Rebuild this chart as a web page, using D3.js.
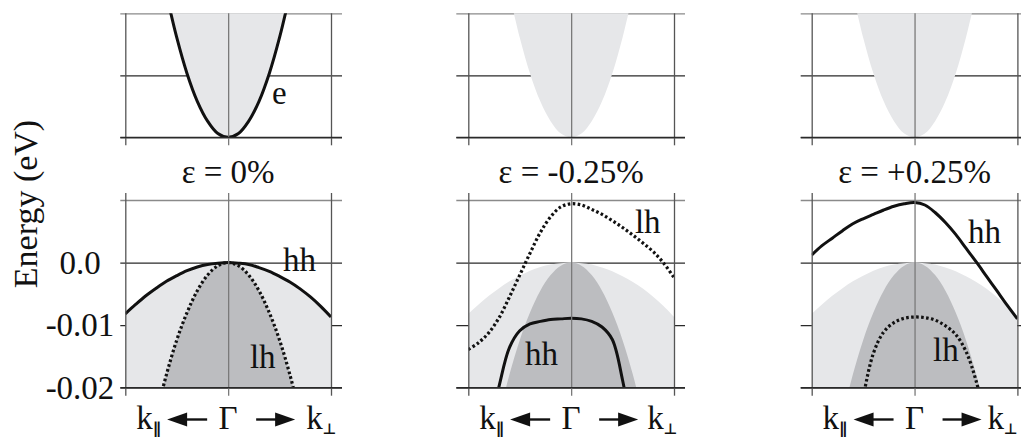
<!DOCTYPE html>
<html>
<head>
<meta charset="utf-8">
<script src="https://cdn.jsdelivr.net/npm/d3@7"></script>
<style>
  body { margin: 0; background: #fff; }
  svg { display: block; }
</style>
</head>
<body>
<svg id="chart" width="1021" height="437"></svg>
<script>
// Wave vector, normalised: negative side runs along k∥, positive side along k⊥
const kGrid = [-1, -0.9, -0.8, -0.7, -0.6, -0.5, -0.4, -0.3, -0.2, -0.1, 0,
               0.1, 0.2, 0.3, 0.4, 0.5, 0.6, 0.7, 0.8, 0.9, 1];
const kCond = [-0.6, -0.5, -0.4, -0.3, -0.2, -0.1, 0, 0.1, 0.2, 0.3, 0.4, 0.5, 0.6];

// Conduction band (upper row, arbitrary units)
const eBand = [2.31, 1.61, 1.03, 0.58, 0.26, 0.06, 0, 0.06, 0.26, 0.58, 1.03, 1.61, 2.31];
const condTicks = [0, 1, 2];

// Valence bands (eV) on kGrid
const hhUnstrained = [-0.0082, -0.0067, -0.0053, -0.0041, -0.0030, -0.0021, -0.0013, -0.0007, -0.0003, -0.0001, 0,
                      -0.0001, -0.0003, -0.0008, -0.0014, -0.0022, -0.0031, -0.0042, -0.0055, -0.0070, -0.0087];
const lhUnstrained = [null, null, null, -0.0244, -0.0179, -0.0124, -0.0080, -0.0045, -0.0020, -0.0005, 0,
                      -0.0005, -0.0020, -0.0045, -0.0080, -0.0124, -0.0179, -0.0244, null, null, null];
const hhCompressive = [null, null, -0.0270, -0.0197, -0.0136, -0.0109, -0.0098, -0.0094, -0.0091, -0.0090, -0.0089,
                       -0.0090, -0.0094, -0.0103, -0.0123, -0.0188, -0.0280, null, null, null, null];
const lhCompressive = [-0.0139, -0.0128, -0.0112, -0.0088, -0.0055, -0.0020, 0.0015, 0.0048, 0.0073, 0.0089, 0.0094,
                       0.0092, 0.0085, 0.0077, 0.0067, 0.0056, 0.0044, 0.0031, 0.0017, -0.0001, -0.0024];
const hhTensile = [0.0012, 0.0027, 0.0039, 0.0051, 0.0062, 0.0070, 0.0077, 0.0084, 0.0090, 0.0094, 0.0096,
                   0.0092, 0.0080, 0.0064, 0.0045, 0.0023, 0.0001, -0.0022, -0.0045, -0.0068, -0.0090];
const lhTensile = [null, null, null, null, -0.0300, -0.0215, -0.0145, -0.0111, -0.0096, -0.0089, -0.0087,
                   -0.0088, -0.0092, -0.0101, -0.0115, -0.0142, -0.0190, -0.0260, null, null, null];

const strainTitles = ["ε = 0%", "ε = -0.25%", "ε = +0.25%"];
const energyTicks = [0.01, 0, -0.01, -0.02];
const energyTickLabels = { "0": "0.0", "-0.01": "-0.01", "-0.02": "-0.02" };
const kTicks = [-1, 0, 1];

// Per-panel band sets and label anchors (k, E)
const panels = [
  { title: strainTitles[0], hh: hhUnstrained, lh: lhUnstrained, eLine: true,
    hhLabel: [0.533, -0.0013], lhLabel: [0.212, -0.0168], kPerpOffset: 78 },
  { title: strainTitles[1], hh: hhCompressive, lh: lhCompressive, eLine: false,
    hhLabel: [-0.449, -0.0164], lhLabel: [0.62, 0.0048], kPerpOffset: 76 },
  { title: strainTitles[2], hh: hhTensile, lh: lhTensile, eLine: false,
    hhLabel: [0.52, 0.0032], lhLabel: [0.18, -0.0158], kPerpOffset: 73 }
];

const SERIF = '"Liberation Serif", "Times New Roman", Times, "DejaVu Serif", serif';
const svg = d3.select("#chart").attr("font-family", SERIF);
const FONT = 33;
const LIGHT = "#e6e7e9", DARK = "#bcbdc0";

const addText = (sel, x, y, str) => sel.append("text")
  .attr("x", x).attr("y", y).attr("font-size", FONT)
  .attr("fill", "#111").style("font-family", SERIF).text(str);

const panelLefts = [125.3, 468.3, 811.7];
const panelW = 205.7;
const leftExt = [5, 12, 11];
const rightExt = 11;

const yTop = d3.scaleLinear().domain([0, 2]).range([137.3, 13.3]);
const yBot = d3.scaleLinear().domain([-0.02, 0.01]).range([387.7, 200]);

const defs = svg.append("defs");

panels.forEach((p, i) => {
  const x0 = panelLefts[i];
  const x = d3.scaleLinear().domain([-1, 1]).range([x0, x0 + panelW]);
  const g = svg.append("g");

  const clipTop = "clipTop" + i, clipBot = "clipBot" + i;
  defs.append("clipPath").attr("id", clipTop).append("rect")
    .attr("x", x0).attr("y", yTop(2)).attr("width", panelW).attr("height", yTop(0) - yTop(2));
  defs.append("clipPath").attr("id", clipBot).append("rect")
    .attr("x", x0).attr("y", yBot(0.01)).attr("width", panelW).attr("height", yBot(-0.02) - yBot(0.01));

  // Horizontal grid lines (beneath the filled regions)
  const hGrid = (scale, ticks, topVal) => {
    const ax = d3.axisLeft(scale).tickValues(ticks).tickFormat("")
      .tickSizeInner(-(panelW + leftExt[i] + rightExt)).tickSizeOuter(0);
    const ga = g.append("g").attr("transform", `translate(${x0 - leftExt[i]},0)`).call(ax);
    ga.select(".domain").remove();
    ga.selectAll(".tick line")
      .attr("stroke", d => d === topVal ? "#8a8a8a" : "#2a2a2a")
      .attr("stroke-width", 1.3);
  };
  hGrid(yTop, condTicks, 2);
  hGrid(yBot, energyTicks, 0.01);

  // Upper row: conduction band
  const condPts = kCond.map((k, j) => [k, eBand[j]]);
  const gt = g.append("g").attr("clip-path", `url(#${clipTop})`);
  gt.append("path").datum(condPts)
    .attr("fill", LIGHT)
    .attr("d", d3.area().x(d => x(d[0])).y0(yTop(2.4)).y1(d => yTop(d[1])).curve(d3.curveCatmullRom));

  // Lower row: unstrained hh / lh regions as background
  const gb = g.append("g").attr("clip-path", `url(#${clipBot})`);
  const ptsOf = arr => kGrid.map((k, j) => [k, arr[j]]);
  const area = d3.area().defined(d => d[1] !== null)
    .x(d => x(d[0])).y0(yBot(-0.03)).y1(d => yBot(d[1])).curve(d3.curveCatmullRom);
  gb.append("path").datum(ptsOf(hhUnstrained)).attr("fill", LIGHT).attr("d", area);
  gb.append("path").datum(ptsOf(lhUnstrained)).attr("fill", DARK).attr("d", area);

  // Vertical lines: panel edges and Γ, each with a short tick below
  const vGrid = (yA, yB) => {
    const ax = d3.axisBottom(x).tickValues(kTicks).tickFormat("")
      .tickSizeInner(-(yB - yA)).tickSizeOuter(0);
    const ga = g.append("g").attr("transform", `translate(0,${yB})`).call(ax);
    ga.select(".domain").remove();
    ga.selectAll(".tick line")
      .attr("stroke", d => d === 0 ? "#7a7a7a" : "#555")
      .attr("stroke-width", 1.3);
  };
  vGrid(yTop(2), yTop(0) + 8);
  vGrid(yBot(0.01) - 7, yBot(-0.02) + 8);

  // Bottom edges drawn over the fills
  [yTop(0), yBot(-0.02)].forEach(yy => {
    g.append("line").attr("x1", x0 - leftExt[i]).attr("x2", x0 + panelW + rightExt)
      .attr("y1", yy).attr("y2", yy).attr("stroke", "#2a2a2a").attr("stroke-width", 1.3);
  });

  // Curves
  if (p.eLine) {
    gt.append("path").datum(condPts)
      .attr("fill", "none").attr("stroke", "#111").attr("stroke-width", 3)
      .attr("d", d3.line().x(d => x(d[0])).y(d => yTop(d[1])).curve(d3.curveCatmullRom));
    addText(g, x(0.426), yTop(0.537), "e");
  }
  const line = d3.line().defined(d => d[1] !== null)
    .x(d => x(d[0])).y(d => yBot(d[1])).curve(d3.curveCatmullRom);
  gb.append("path").datum(ptsOf(p.hh))
    .attr("fill", "none").attr("stroke", "#111").attr("stroke-width", 3).attr("d", line);
  gb.append("path").datum(ptsOf(p.lh))
    .attr("fill", "none").attr("stroke", "#111").attr("stroke-width", 3.2)
    .attr("stroke-dasharray", "2.6 2.4").attr("d", line);

  addText(g, x(p.hhLabel[0]), yBot(p.hhLabel[1]), "hh");
  addText(g, x(p.lhLabel[0]), yBot(p.lhLabel[1]), "lh");

  // Strain title
  addText(g, x(0), 183, p.title).attr("text-anchor", "middle");

  // Direction labels:  k∥ ← Γ → k⊥
  const c = x(0), by = 429, ay = 419.5;
  const kl = addText(g, c - 92, by, "");
  kl.append("tspan").text("k");
  kl.append("tspan").attr("font-size", 16).attr("font-weight", "bold").attr("dy", 5)
    .style("font-family", '"DejaVu Sans", sans-serif').text("\u2225");
  const kr = addText(g, c + p.kPerpOffset, by, "");
  kr.append("tspan").text("k");
  kr.append("tspan").attr("font-size", 15).attr("font-weight", "bold").attr("dy", 5)
    .style("font-family", '"DejaVu Sans", sans-serif').text("\u22A5");
  addText(g, c, by, "Γ").attr("text-anchor", "middle");

  const arrow = (tail, tip) => {
    const dir = Math.sign(tip - tail), headLen = 20, halfH = 7;
    g.append("line").attr("x1", tail).attr("x2", tip - dir * headLen + dir * 2)
      .attr("y1", ay).attr("y2", ay).attr("stroke", "#111").attr("stroke-width", 2.4);
    g.append("path").attr("fill", "#111")
      .attr("d", `M${tip},${ay} L${tip - dir * headLen},${ay - halfH} L${tip - dir * headLen},${ay + halfH} Z`);
  };
  arrow(c - 21, c - 61);
  arrow(c + 28, c + 67);

  // Energy tick labels on the first panel, centred in the margin
  if (i === 0) {
    const ax = d3.axisLeft(yBot).tickValues([0, -0.01, -0.02])
      .tickFormat(d => energyTickLabels[String(d)]).tickSize(0).tickPadding(0);
    const ga = svg.append("g").attr("transform", "translate(80,0)").call(ax);
    ga.select(".domain").remove();
    ga.attr("font-family", SERIF).attr("font-size", FONT);
    ga.selectAll("text").attr("font-size", FONT).attr("fill", "#111")
      .attr("text-anchor", "middle").attr("x", 0)
      .style("font-family", SERIF);
  }
});

// Axis title
addText(svg, 0, 0, "Energy (eV)")
  .attr("font-size", 34)
  .attr("transform", "translate(36.5,204) rotate(-90)")
  .attr("text-anchor", "middle");
</script>
</body>
</html>
